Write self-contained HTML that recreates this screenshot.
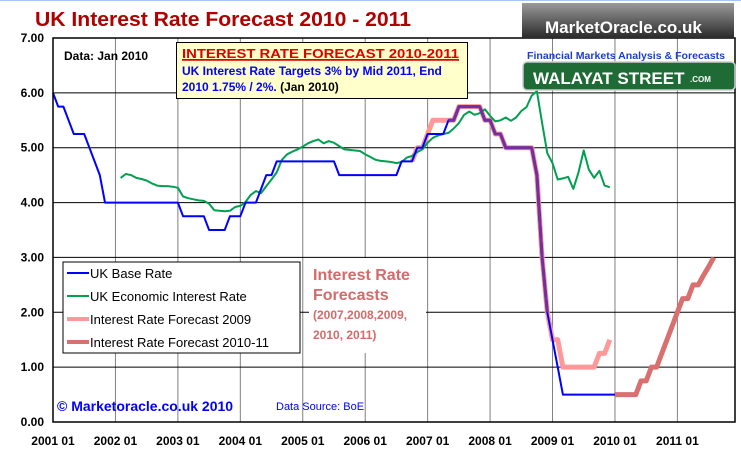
<!DOCTYPE html>
<html><head><meta charset="utf-8"><style>
html,body{margin:0;padding:0;background:#fff;}
svg{display:block;font-family:"Liberation Sans",Arial,sans-serif;}
</style></head><body>
<svg id="chart" width="741" height="462" viewBox="0 0 741 462">
<rect x="0" y="0" width="741" height="462" fill="#fff"/>
<line x1="0" y1="0.5" x2="741" y2="0.5" stroke="#a8c8f0" stroke-width="1"/>
<text x="35" y="26" font-size="20" font-weight="bold" fill="#b00000" textLength="376" lengthAdjust="spacingAndGlyphs">UK Interest Rate Forecast 2010 - 2011</text>
<g id="grid"></g>
<g id="series"></g>
<g id="axes"></g>
<!-- white area for forecast note -->
<rect x="309" y="258" width="117" height="95" fill="#fff"/>
<g fill="#d46a6a" font-weight="bold">
<text x="313" y="280" font-size="16">Interest Rate</text>
<text x="313" y="300" font-size="16">Forecasts</text>
<text x="313" y="319" font-size="12">(2007,2008,2009,</text>
<text x="313" y="339" font-size="12">2010, 2011)</text>
</g>
<g>
<rect x="63" y="262" width="237" height="91" fill="#fff" stroke="#000" stroke-width="1"/>
<line x1="67" y1="273" x2="89" y2="273" stroke="#0000ff" stroke-width="2"/>
<text x="90" y="278" font-size="13">UK Base Rate</text>
<line x1="67" y1="296" x2="89" y2="296" stroke="#00a050" stroke-width="2"/>
<text x="90" y="301" font-size="13">UK Economic Interest Rate</text>
<line x1="67" y1="319" x2="89" y2="319" stroke="#ff9999" stroke-width="4"/>
<text x="90" y="324" font-size="13">Interest Rate Forecast 2009</text>
<line x1="67" y1="342" x2="89" y2="342" stroke="#d87070" stroke-width="4"/>
<text x="90" y="347" font-size="13">Interest Rate Forecast 2010-11</text>
</g>
<text x="57" y="411" font-size="14" font-weight="bold" fill="#0000ff">© Marketoracle.co.uk  2010</text>
<text x="276" y="410" font-size="11" fill="#0000ff">Data Source: BoE</text>
<text x="64" y="60" font-size="12" font-weight="bold">Data: Jan 2010</text>
<g>
<rect x="176.5" y="42.5" width="291" height="56" fill="#ffffcc" stroke="#000"/>
<text x="182" y="58" font-size="13" font-weight="bold" fill="#e00000" text-decoration="underline" textLength="277" lengthAdjust="spacingAndGlyphs">INTEREST RATE FORECAST 2010-2011</text>
<line x1="182" y1="60" x2="459" y2="60" stroke="#e00000" stroke-width="1.5"/>
<text x="182" y="75" font-size="12" font-weight="bold" fill="#0000ff">UK Interest Rate Targets 3% by Mid 2011, End</text>
<text x="182" y="91" font-size="12" font-weight="bold" fill="#0000ff">2010 1.75% / 2%. <tspan fill="#000">(Jan 2010)</tspan></text>
</g>
<g>
<defs><linearGradient id="lg" x1="0" y1="0" x2="0" y2="1"><stop offset="0" stop-color="#9a9a9a"/><stop offset="1" stop-color="#2a2a2a"/></linearGradient></defs>
<rect x="522" y="3" width="212" height="35" fill="url(#lg)"/>
<text x="545" y="33" font-size="17" font-weight="bold" fill="#fff">MarketOracle.co.uk</text>
<text x="527" y="59" font-size="10" font-weight="bold" fill="#1a3fcc" textLength="198" lengthAdjust="spacingAndGlyphs">Financial Markets Analysis &amp; Forecasts</text>
<rect x="523" y="62" width="212" height="28" rx="4" fill="#1e6b35" stroke="#ccc" stroke-width="1.5"/>
<text x="533" y="84" font-size="17" font-weight="bold" fill="#fff">WALAYAT STREET</text>
<text x="690" y="82" font-size="8" font-weight="bold" fill="#fff">.COM</text>
</g>
</svg>
<script>
const yearLabels = ["2001 01","2002 01","2003 01","2004 01","2005 01","2006 01","2007 01","2008 01","2009 01","2010 01","2011 01"];
const yTicks = [0,1,2,3,4,5,6,7];
// monthly, starting Jan 2001 (index 0)
const baseRate = [6,5.75,5.75,5.5,5.25,5.25,5.25,5,4.75,4.5,4,4,
4,4,4,4,4,4,4,4,4,4,4,4,
4,3.75,3.75,3.75,3.75,3.75,3.5,3.5,3.5,3.5,3.75,3.75,
3.75,4,4,4,4.25,4.5,4.5,4.75,4.75,4.75,4.75,4.75,
4.75,4.75,4.75,4.75,4.75,4.75,4.75,4.5,4.5,4.5,4.5,4.5,
4.5,4.5,4.5,4.5,4.5,4.5,4.5,4.75,4.75,4.75,5,5,
5.25,5.25,5.25,5.25,5.5,5.5,5.75,5.75,5.75,5.75,5.75,5.5,
5.5,5.25,5.25,5,5,5,5,5,5,4.5,3,2,
1.5,1,0.5,0.5,0.5,0.5,0.5,0.5,0.5,0.5,0.5,0.5,
0.5];
const econStart = 13;
const econRate = [4.45,4.52,4.50,4.45,4.43,4.40,4.35,4.31,4.30,4.30,4.29,
4.27,4.11,4.08,4.06,4.04,4.03,3.98,3.86,3.85,3.84,3.85,3.92,
3.94,4.01,4.14,4.21,4.17,4.30,4.42,4.55,4.78,4.88,4.93,4.97,
5.02,5.08,5.12,5.15,5.08,5.12,5.09,5.03,4.97,4.96,4.95,4.94,
4.88,4.83,4.78,4.76,4.75,4.74,4.72,4.74,4.82,4.85,4.92,4.97,
5.09,5.18,5.22,5.25,5.27,5.35,5.45,5.60,5.66,5.60,5.63,5.70,
5.58,5.48,5.50,5.55,5.49,5.55,5.67,5.74,5.95,6.03,5.45,4.90,
4.72,4.42,4.44,4.47,4.25,4.55,4.95,4.60,4.45,4.58,4.31,4.28];
const f2009Start = 69;
const forecast2009 = [4.75,5,5,5.25,5.5,5.5,5.5,5.5,5.5,5.75,5.75,5.75,5.75,5.75,5.5,
5.5,5.25,5.25,5,5,5,5,5,5,4.5,3,2,
1.5,1.5,1,1,1,1,1,1,1,1.25,1.25,1.5];
const f2008Start = 76;
const forecast2008 = [5.5,5.5,5.75,5.75,5.75,5.75,5.75,5.5,5.5,5.25,5.25,5,5,5,5,5,5,4.5,3,2];
const f2010Start = 108;
const forecast2010 = [0.5,0.5,0.5,0.5,0.5,0.75,0.75,1,1,1.25,1.5,1.75,2,2.25,2.25,2.5,2.5,2.67,2.83,3];

const NS="http://www.w3.org/2000/svg";
const X0=53, X1=735, Y0=422, YT=38, PXY=62.44, PXV=(Y0-YT)/7;
function xm(m){return X0 + m/12*PXY;}
function yv(v){return Y0 - v*PXV;}
function mk(tag,attrs,parent){const e=document.createElementNS(NS,tag);for(const k in attrs)e.setAttribute(k,attrs[k]);parent.appendChild(e);return e;}
const grid=document.getElementById('grid'), ser=document.getElementById('series'), ax=document.getElementById('axes');
yearLabels.forEach((lab,i)=>{
  const x=xm(i*12);
  if(i>0){const l=mk('line',{x1:x,y1:YT,x2:x,y2:Y0,stroke:'#808080','stroke-width':1},grid);
  
  }
  const t=mk('text',{x:x,y:445,'font-size':12,'font-weight':'bold','text-anchor':'middle'},ax);
  t.textContent=lab;
  
  
});
yTicks.forEach(v=>{
  const y=yv(v);
  if(v>0&&v<7){const l=mk('line',{x1:X0,y1:y,x2:X1,y2:y,stroke:'#000','stroke-width':1},grid);
  
  }
  const t=mk('text',{x:44,y:y+4,'font-size':12,'font-weight':'bold','text-anchor':'end'},ax);
  t.textContent=v.toFixed(2);
  
  
});
const border=mk('rect',{x:X0,y:YT,width:X1-X0,height:Y0-YT,fill:'none',stroke:'#000','stroke-width':1.5},ax);


function line(vals,start,color,w,name){
  const pts=vals.map((v,i)=>xm(start+i).toFixed(1)+','+yv(v).toFixed(1)).join(' ');
  const p=mk('polyline',{points:pts,fill:'none',stroke:color,'stroke-width':w,'stroke-linejoin':'round'},ser);
  
  
}
line(forecast2009,f2009Start,'#ff9999',5,'forecast-2009-line');
line(forecast2010,f2010Start,'#d87070',5,'forecast-2010-11-line');
line(forecast2008,f2008Start,'#7030a0',3,'forecast-2008-line');
line(econRate,econStart,'#00a050',2,'economic-rate-line');
line(baseRate,0,'#0000ff',2,'base-rate-line');
// redraw purple on top where it overlaps
line(forecast2008,f2008Start,'#7030a0',3,'forecast-2008-overlay');
</script>
</body></html>
